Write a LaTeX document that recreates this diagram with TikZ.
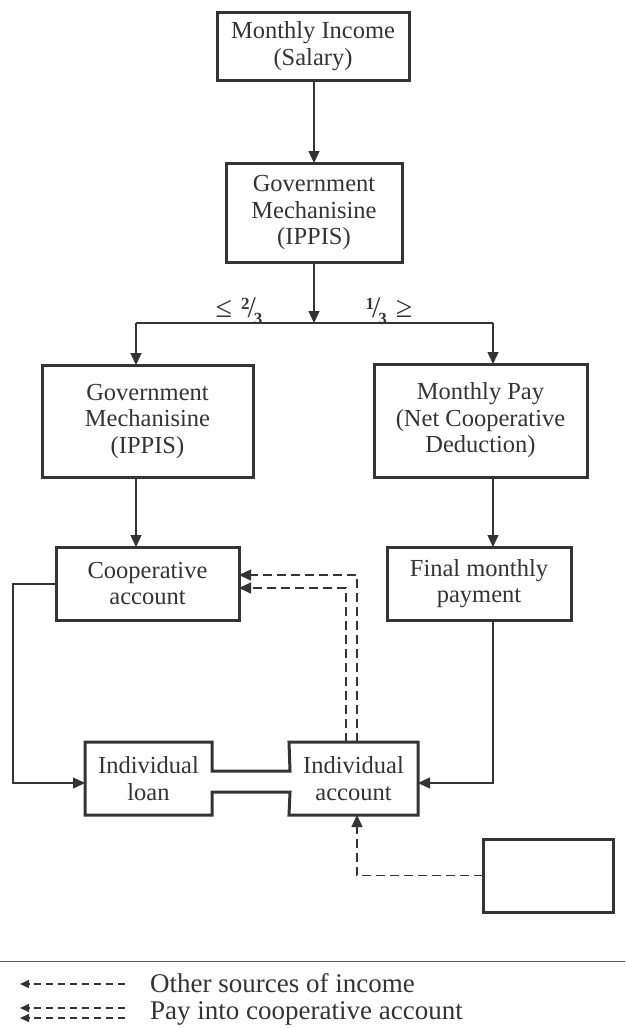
\documentclass[tikz,border=0pt]{standalone}
\usepackage{fontspec}
\setmainfont{Liberation Serif}
\usetikzlibrary{arrows.meta,calc}
\definecolor{ink}{RGB}{52,52,52}
\tikzset{
  box/.style={draw=ink, line width=3pt, inner sep=0pt, outer sep=0pt, align=center, text=ink,
     font=\fontsize{24.5}{26.5}\selectfont},
  tbox/.style={inner sep=0pt, outer sep=0pt, align=center, text=ink, font=\fontsize{24.5}{26.5}\selectfont},
  conn/.style={draw=ink, line width=1.4pt},
  arr/.style={conn, -{Triangle[length=12pt,width=11pt]}},
  dasharr/.style={draw=ink, line width=1.4pt, dash pattern=on 9pt off 5pt, -{Triangle[length=12pt,width=11pt]}},
  legarr/.style={draw=ink, line width=1.2pt, dash pattern=on 7pt off 5pt, -{Triangle[length=9pt,width=8pt]}},
  lab/.style={inner sep=0pt, text=ink, font=\fontsize{30}{30}\selectfont},
  legtext/.style={inner sep=0pt, anchor=west, text=ink, font=\fontsize{27}{29}\selectfont}
}
\newcommand{\supnum}[1]{{\fontsize{17}{17}\selectfont\raisebox{8pt}{\textbf{#1}}}}
\newcommand{\subnum}[1]{{\fontsize{17}{17}\selectfont\raisebox{-7pt}{\textbf{#1}}}}
\begin{document}
\begin{tikzpicture}[x=1pt,y=-1pt]
\useasboundingbox (0,0) rectangle (625,1028);
\fill[white] (0,0) rectangle (625,1028);

% boxes
\node[box, minimum width=192pt, minimum height=68pt] (inc) at (313,46) {Monthly Income\\(Salary)};
\node[box, minimum width=176pt, minimum height=99pt] (gov1) at (314,212.5) {Government\\Mechanisine\\(IPPIS)};
\node[box, minimum width=211pt, minimum height=112pt] (gov2) at (147.5,421) {Government\\Mechanisine\\(IPPIS)};
\node[box, minimum width=213pt, minimum height=113pt] (pay) at (480.5,420.5) {Monthly Pay\\(Net Cooperative\\Deduction)};
\node[box, minimum width=183pt, minimum height=73pt] (coop) at (147.5,583.5) {Cooperative\\account};
\node[box, minimum width=184pt, minimum height=73pt] (final) at (479,583.5) {Final monthly\\payment};
\node[tbox, minimum width=127pt, minimum height=73pt] (loan) at (148.5,778.5) {Individual\\loan};
\node[tbox, minimum width=129pt, minimum height=73pt] (acct) at (353.5,778.5) {Individual\\account};
\node[box, minimum width=130pt, minimum height=73pt] (other) at (548,875.5) {};

% joined outline of loan and account
\draw[ink, line width=3pt, line join=miter]
  (loan.north west) -- (loan.north east) -- (212,771) -- (290,771) -- (acct.north west)
  -- (acct.north east) -- (acct.south east) -- (acct.south west) -- (290,792) -- (212,792)
  -- (loan.south east) -- (loan.south west) -- cycle;

% split labels
\node[lab] (le) at (239,311) {≤\hspace{9pt}\supnum{2}\hspace{-2pt}/\hspace{-2pt}\subnum{3}};
\node[lab] (ge) at (389,311) {\supnum{1}\hspace{-2pt}/\hspace{-2pt}\subnum{3}\hspace{9pt}≥};

% connectors
\coordinate (split) at (314,323);
\coordinate (L) at (136,323);
\coordinate (R) at (493,323);
\draw[arr] (inc.south -| 314,0) -- (gov1.north -| 314,0);
\draw[arr] (gov1.south -| split) -- (split);
\draw[conn] (L) -- (R);
\draw[arr] (L) -- (L |- gov2.north);
\draw[arr] (R) -- (R |- pay.north);
\draw[arr] (L |- gov2.south) -- (L |- coop.north);
\draw[arr] (R |- pay.south) -- (R |- final.north);
\draw[arr] (R |- final.south) -- (493,783) -- (acct.east |- 0,783);
\draw[arr] (coop.west |- 0,584) -- (13,584) -- (13,783) -- (loan.west |- 0,783);

% dashed payments into cooperative account
\draw[dasharr] (357,0 |- acct.north) -- (357,575) -- (coop.east |- 0,575);
\draw[dasharr] (346,0 |- acct.north) -- (346,588) -- (coop.east |- 0,588);
\draw[dasharr] (other.west) -| (357,0 |- acct.south);

% legend
\draw[ink!80, line width=1pt] (0,961) -- (625,961);
\coordinate (la1) at (125,984);
\coordinate (la2) at (125,1008);
\coordinate (la3) at (125,1018);
\draw[legarr] (la1) -- (20,984);
\draw[legarr] (la2) -- (20,1008);
\draw[legarr] (la3) -- (20,1018);
\node[legtext] (lt1) at (150,983) {Other sources of income};
\node[legtext] (lt2) at (150,1013) {Pay into cooperative account};
\end{tikzpicture}
\end{document}
